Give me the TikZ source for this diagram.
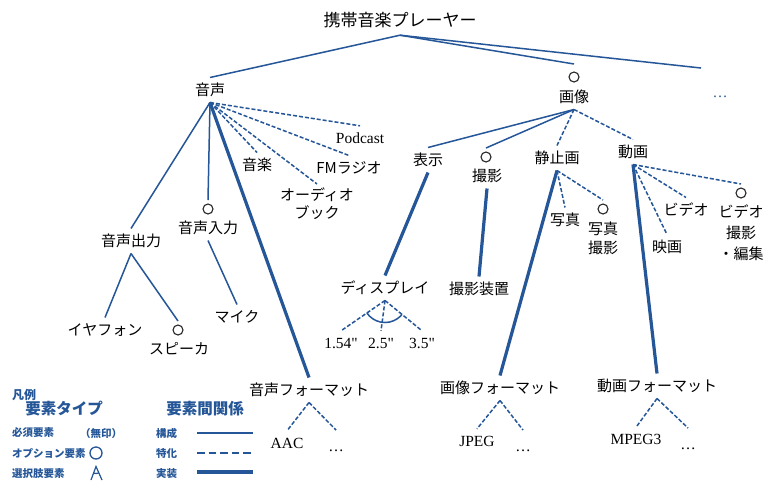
\documentclass[tikz,border=0pt]{standalone}
\usepackage{fontspec}
\setmainfont{Liberation Serif}
\newfontfamily\jp{Noto Sans CJK JP}
\definecolor{fmblue}{RGB}{36,86,152}
\tikzset{
  t/.style={font=\jp\fontsize{15}{18}\selectfont, text height=13pt, text depth=1.6pt, inner xsep=1pt, inner ysep=5pt},
  tm/.style={font=\jp\fontsize{15}{#1}\selectfont, align=center, anchor=north, inner xsep=1pt, inner ysep=4pt},
  ttl/.style={font=\jp\fontsize{17}{20}\selectfont, text height=15pt, text depth=2pt, inner ysep=6.5pt},
  e/.style={font=\fontsize{15.5}{18}\selectfont, text height=10pt, text depth=0pt, inner xsep=1pt, inner ysep=7pt},
  dotsl/.style={font=\fontsize{15.5}{18}\selectfont, text height=19pt, text depth=0pt, inner ysep=2pt, inner xsep=0pt, anchor=north},
  opt/.style={circle, draw=black!85, line width=1.1pt, minimum size=10pt, inner sep=0pt, outer sep=#1},
  opt/.default=4pt,
  comp/.style={draw=fmblue, line width=1.5pt},
  spec/.style={draw=fmblue, line width=1.5pt, dash pattern=on 4pt off 2pt},
  impl/.style={draw=fmblue, line width=3.2pt},
  lgh/.style={font=\jp\bfseries\fontsize{15.5}{18}\selectfont, text=fmblue, inner sep=0pt},
  lgs/.style={font=\jp\bfseries\fontsize{10.5}{12}\selectfont, text=fmblue, inner sep=0pt, anchor=west},
}
\begin{document}
\begin{tikzpicture}[x=1pt, y=-1pt]
\useasboundingbox[fill=white] (0,0) rectangle (776,483);

% root
\node[ttl] (root) at (400,20) {携帯音楽プレーヤー};
\coordinate (other) at (701,68);
\node[font=\fontsize{15}{18}\selectfont, text=fmblue, inner sep=0pt] (rootdots) at (720,97) {…};

% 音声 subtree
\node[t] (yinsei) at (210,90) {音声};
\node[e] (podcast) at (360,138) {Podcast};
\node[t] (fm) at (349,168) {FMラジオ};
\node[tm=18] (audiobook) at (317,184) {オーディオ\\ブック};
\node[t] (ongaku) at (257,165) {音楽};
\node[opt] (nyuryokuO) at (208,209) {};
\node[t] (nyuryoku) at (208,228) {音声入力};
\node[t] (shutsuryoku) at (131,241) {音声出力};
\node[t] (earphone) at (105,330) {イヤフォン};
\node[opt] (speakerO) at (178,330) {};
\node[t] (speaker) at (179,349) {スピーカ};
\node[t] (mic) at (237,317) {マイク};
\node[t] (yformat) at (309,390) {音声フォーマット};
\node[e] (aac) at (287,443) {AAC};
\node[dotsl] (ydots) at (336,430) {…};

% 画像 subtree
\node[opt=8pt] (gazoO) at (574,77) {};
\node[t] (gazo) at (574,97) {画像};
\node[t] (hyoji) at (428,160) {表示};
\node[opt] (satsueiO) at (486,157) {};
\node[t] (satsuei) at (487,176) {撮影};
\node[t] (seishiga) at (557,158) {静止画};
\node[t] (doga) at (633,152) {動画};
\node[t] (display) at (385,288) {ディスプレイ};
\node[e] (d154) at (341,343) {1.54\textquotedbl};
\node[e] (d25) at (381,343) {2.5\textquotedbl};
\node[e] (d35) at (422,343) {3.5\textquotedbl};
\node[t] (souchi) at (479,289) {撮影装置};
\node[t] (shashin) at (565,220) {写真};
\node[opt] (shashinO) at (603,209) {};
\node[tm=19] (shashinsatsuei) at (603,218) {写真\\撮影};
\node[t] (eiga) at (667,247) {映画};
\node[t] (video) at (686,210) {ビデオ};
\node[opt] (videoO) at (741,193) {};
\node[tm=21] (videoedit) at (741,201) {ビデオ\\撮影\\・編集};
\node[t] (gformat) at (500,388) {画像フォーマット};
\node[t] (dformat) at (657,386) {動画フォーマット};
\node[e] (jpeg) at (477,441) {JPEG};
\node[dotsl] (gdots) at (523,430) {…};
\node[e] (mpeg) at (636,439.5) {MPEG3};
\node[dotsl] (ddots) at (688,428) {…};

% connectors
\draw[comp] (root.south) -- (yinsei.north);
\draw[comp] (root.south) -- (gazoO.north);
\draw[comp] (root.south) -- (other);

\draw[spec] (yinsei.south) -- (podcast.north);
\draw[spec] (yinsei.south) -- (fm.north);
\draw[spec] (yinsei.south) -- (audiobook.north);
\draw[spec] (yinsei.south) -- (ongaku.north);
\draw[impl] (yinsei.south) -- (yformat.north);
\draw[comp] (yinsei.south) -- (nyuryokuO.north);
\draw[comp] (yinsei.south) -- (shutsuryoku.north);
\draw[comp] (shutsuryoku.south) -- (earphone.north);
\draw[comp] (shutsuryoku.south) -- (speakerO.north);
\draw[comp] (nyuryoku.south) -- (mic.north);
\draw[spec] (yformat.south) -- (aac.north);
\draw[spec] (yformat.south) -- (ydots.north);

\draw[comp] (gazo.south) -- (hyoji.north);
\draw[comp] (gazo.south) -- (satsueiO.north);
\draw[spec] (gazo.south) -- (seishiga.north);
\draw[spec] (gazo.south) -- (doga.north);
\draw[impl] (hyoji.south) -- (display.north);
\draw[spec] (display.south) -- (d154.north);
\draw[spec] (display.south) -- (d25.north);
\draw[spec] (display.south) -- (d35.north);
\begin{scope}
  \clip (display.south) -- (d154.north) -- (d35.north) -- cycle;
  \draw[comp] (display.south) circle (22pt);
\end{scope}
\draw[impl] (satsuei.south) -- (souchi.north);
\draw[impl] (seishiga.south) -- (gformat.north);
\draw[spec] (seishiga.south) -- (shashin.north);
\draw[spec] (seishiga.south) -- (shashinO.north);
\draw[impl] (doga.south) -- (dformat.north);
\draw[spec] (doga.south) -- (eiga.north);
\draw[spec] (doga.south) -- (video.north);
\draw[spec] (doga.south) -- (videoO.north);
\draw[spec] (gformat.south) -- (jpeg.north);
\draw[spec] (gformat.south) -- (gdots.north);
\draw[spec] (dformat.south) -- (mpeg.north);
\draw[spec] (dformat.south) -- (ddots.north);

% legend
\node[lgs, font=\jp\bfseries\fontsize{12}{14}\selectfont] (lg) at (12,395) {凡例};
\node[lgh] (lgtype) at (64,409) {要素タイプ};
\node[lgh] (lgrel) at (205,409) {要素間関係};
\node[lgs] (lgm) at (12,433) {必須要素};
\node[lgs, anchor=center] (lgmark) at (101,433) {（無印）};
\node[lgs] (lgo) at (12,453) {オプション要素};
\node[circle, draw=fmblue, line width=1.3pt, minimum size=12pt, inner sep=0pt] (lgoc) at (96,453) {};
\node[lgs] (lgs) at (12,474) {選択肢要素};
\coordinate (lga) at (96,466.5);
\coordinate (lgl) at (91,480);
\coordinate (lgr) at (102,480);
\draw[draw=fmblue, line width=1.2pt] (lgl) -- (lga) -- (lgr);
\begin{scope}
  \clip (lga) -- (lgl) -- (lgr) -- cycle;
  \draw[draw=fmblue, line width=1.2pt] (lga) circle (7pt);
\end{scope}
\node[lgs] (lgc) at (156,433) {構成};
\node[lgs] (lgsp) at (156,453) {特化};
\node[lgs] (lgi) at (156,474) {実装};
\coordinate (c1) at (197,433); \coordinate (c2) at (253,433);
\coordinate (s1) at (197,453); \coordinate (s2) at (253,453);
\coordinate (i1) at (197,472); \coordinate (i2) at (253,472);
\draw[comp] (c1) -- (c2);
\draw[draw=fmblue, line width=2.7pt, dash pattern=on 7.5pt off 4pt] (s1) -- (s2);
\draw[draw=fmblue, line width=3.3pt] (i1) -- (i2);
\end{tikzpicture}
\end{document}
